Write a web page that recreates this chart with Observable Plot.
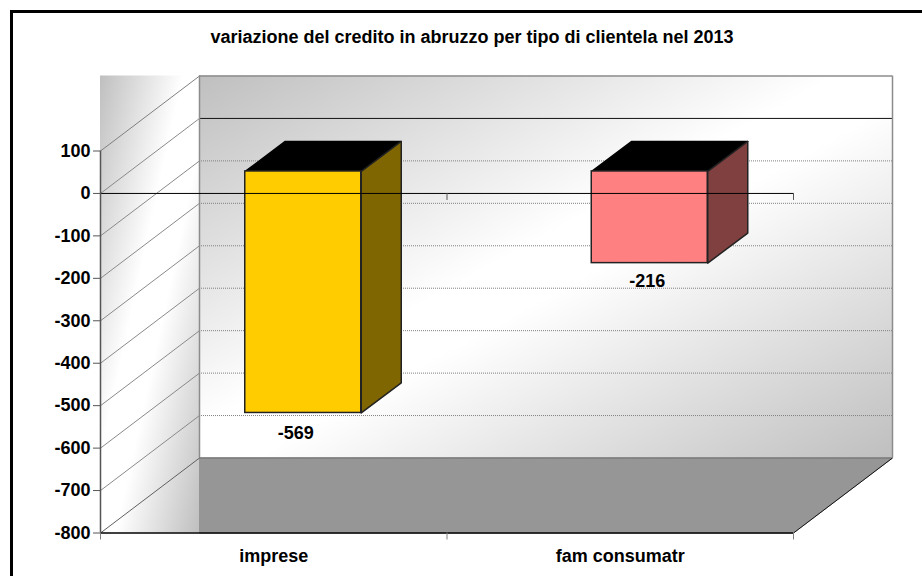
<!DOCTYPE html>
<html>
<head>
<meta charset="utf-8">
<script src="https://cdn.jsdelivr.net/npm/d3@7"></script>
<script src="https://cdn.jsdelivr.net/npm/@observablehq/plot@0.6"></script>
<style>
html,body{margin:0;padding:0;background:#fff;width:922px;height:576px;overflow:hidden}
#frame{position:absolute;left:10px;top:10px;right:0;bottom:0;border-left:3px solid #000;border-top:3px solid #000;}
#title{position:absolute;left:0;top:27px;width:944px;text-align:center;font:bold 18px "Liberation Sans",Arial,sans-serif;color:#000;white-space:nowrap}
#chart{position:absolute;left:0;top:0}
</style>
</head>
<body>
<div id="frame"></div>
<div id="chart"></div>
<div id="title"></div>
<script>
const titleText = "variazione del credito in abruzzo per tipo di clientela nel 2013";
const categories = ["imprese", "fam consumatr"];
const values = [-569, -216];
const yTicks = [100, 0, -100, -200, -300, -400, -500, -600, -700, -800];
const barColors = ["#ffcc00", "#ff8080"];
const sideColors = ["#806600", "#804040"];
document.getElementById("title").textContent = titleText;

// Scale: x counts categories (0..2), y is the value axis.
const xDomain = [0, categories.length];
const yDomain = [-800, 100];
const pxX = 346.5, pxY = 0.4244;
const wallDx = 99 / pxX, wallDy = 75 / pxY;          // room depth in data units
const barHalf = 0.5 * 116 / pxX;                     // half bar width
const barDx = 40 / pxX, barDy = 30 / pxY;            // bar depth
const shiftX = 29.5 / pxX, shiftY = 22 / pxY;        // bar front offset inside room
const tickLen = 7 / pxY;

const [yMin, yMax] = yDomain;
const [x0, x1] = xDomain;

function poly(id, pts, extra) { return pts.map(([x, y]) => ({id, x, y, ...extra})); }

const floor = [[x0 + wallDx, yMin + wallDy], [x1 + wallDx, yMin + wallDy], [x1, yMin], [x0 + wallDx, yMin], [x0 + wallDx, yMin + wallDy]].map(([x, y]) => ({x, y}));

const bars = categories.map((c, i) => {
  const l = i + 0.5 + shiftX - barHalf, r = i + 0.5 + shiftX + barHalf;
  const t = 0 + shiftY, b = values[i] + shiftY;
  return {c, i, l, r, t, b, v: values[i]};
});
const topFaces = bars.flatMap(d => poly(d.c, [[d.l, d.t], [d.r, d.t], [d.r + barDx, d.t + barDy], [d.l + barDx, d.t + barDy], [d.l, d.t]]));
const sideFaces = bars.flatMap(d => poly(d.c, [[d.r, d.t], [d.r + barDx, d.t + barDy], [d.r + barDx, d.b + barDy], [d.r, d.b], [d.r, d.t]], {color: sideColors[d.i]}));

const defs = () => {
  const s = d3.create("svg:defs");
  const mk = (id, a, b) => {
    const g = s.append("linearGradient").attr("id", id).attr("x1", 0).attr("y1", 0).attr("x2", 1).attr("y2", 1);
    g.append("stop").attr("offset", "0%").attr("stop-color", "#bfbfbf");
    g.append("stop").attr("offset", a + "%").attr("stop-color", "#ffffff");
    g.append("stop").attr("offset", b + "%").attr("stop-color", "#ffffff");
    g.append("stop").attr("offset", "100%").attr("stop-color", "#bfbfbf");
  };
  mk("wallGrad", 46, 54); mk("sideGrad", 42, 58);
  return s.node();
};

const gridTicks = yTicks.filter(v => v !== 0 && v !== yMax && v !== yMin);
const font = `"Liberation Sans",Arial,sans-serif`;
const fs = 18;

const chart = Plot.plot({
  width: 922,
  height: 576,
  marginLeft: 100,
  marginRight: 129,
  marginTop: 150.5,
  marginBottom: 43.5,
  style: {background: "transparent", fontFamily: font, overflow: "visible"},
  x: {type: "linear", domain: xDomain, axis: null},
  y: {type: "linear", domain: yDomain, axis: null},
  marks: [
    defs,
    // side wall and back wall
    Plot.rect([0], {x1: x0, x2: x0 + wallDx, y1: yMin, y2: yMax + wallDy, fill: "url(#sideGrad)"}),
    Plot.rect([0], {x1: x0 + wallDx, x2: x1 + wallDx, y1: yMin + wallDy, y2: yMax + wallDy, fill: "url(#wallGrad)"}),
    // floor
    Plot.line(floor, {x: "x", y: "y", fill: "#969696", stroke: "#969696", strokeWidth: 1}),
    // gridlines: back wall + side wall
    Plot.ruleY(gridTicks, {x1: x0 + wallDx, x2: x1 + wallDx, y: d => d + wallDy, stroke: "#808080", strokeWidth: 1, strokeDasharray: "1,1"}),
    Plot.ruleY([0], {x1: x0 + wallDx, x2: x1 + wallDx, y: d => d + wallDy, stroke: "#111", strokeWidth: 1}),
    Plot.link(yTicks.filter(v => v !== yMax && v !== yMin), {x1: x0, y1: d => d, x2: x0 + wallDx, y2: d => d + wallDy, stroke: "#8a8a8a", strokeWidth: 1}),
    Plot.link([yMax], {x1: x0, y1: d => d, x2: x0 + wallDx, y2: d => d + wallDy, stroke: "#808080", strokeWidth: 1}),
    Plot.link([yMin], {x1: x0, y1: d => d, x2: x0 + wallDx, y2: d => d + wallDy, stroke: "#606060", strokeWidth: 1}),
    // wall outline
    Plot.ruleX([x0 + wallDx, x1 + wallDx], {y1: yMin + wallDy, y2: yMax + wallDy, stroke: "#8c8c8c", strokeWidth: 1.5}),
    Plot.ruleY([yMax + wallDy], {x1: x0 + wallDx, x2: x1 + wallDx, stroke: "#8c8c8c", strokeWidth: 1.5}),
    Plot.ruleY([yMin + wallDy], {x1: x0 + wallDx, x2: x1 + wallDx, stroke: "#7a7a7a", strokeWidth: 1.5}),
    Plot.link([x1], {x1: d => d, y1: yMin, x2: d => d + wallDx, y2: yMin + wallDy, stroke: "#111", strokeWidth: 1}),
    // bars
    Plot.line(topFaces, {x: "x", y: "y", z: "id", fill: "#000", stroke: "#000", strokeWidth: 1.5}),
    Plot.line(sideFaces, {x: "x", y: "y", z: "id", fill: "color", stroke: "#222", strokeWidth: 1.5}),
    Plot.rect(bars, {x1: "l", x2: "r", y1: "b", y2: "t", fill: (d) => barColors[d.i], stroke: "#222", strokeWidth: 1.5}),
    // axes
    Plot.ruleY([0], {x1: x0, x2: x1, stroke: "#000", strokeWidth: 1}),
    Plot.ruleY([yMin], {x1: x0, x2: x1, stroke: "#000", strokeWidth: 1.5}),
    Plot.ruleX([x0], {y1: yMin, y2: yMax, stroke: "#555", strokeWidth: 1.5}),
    Plot.axisY({anchor: "left", ticks: yTicks, tickSize: 7, tickPadding: 3, label: null, stroke: "#555", tickFormat: d => String(d), fontSize: fs, fontWeight: "bold", fill: "#000"}),
    Plot.ruleX([x0, x0 + 1, x1], {y1: yMin, y2: yMin - tickLen, stroke: "#808080"}),
    Plot.ruleX([x0, x0 + 1, x1], {y1: 0, y2: -tickLen, stroke: "#555"}),
    // texts
    Plot.text(categories, {x: (d, i) => i + 0.5, y: yMin, dy: 23, text: d => d, fontSize: fs, fontWeight: "bold", fill: "#000"}),
    Plot.text([bars[0]], {x: d => d.i + 0.5, y: "v", dy: -2, dx: 22, text: d => String(d.v), fontSize: fs, fontWeight: "bold", fill: "#000"}),
    Plot.text([bars[1]], {x: d => d.i + 0.5, y: "v", dy: -4, dx: 27, text: d => String(d.v), fontSize: fs, fontWeight: "bold", fill: "#000"})
  ]
});
document.getElementById("chart").append(chart);
</script>
</body>
</html>
